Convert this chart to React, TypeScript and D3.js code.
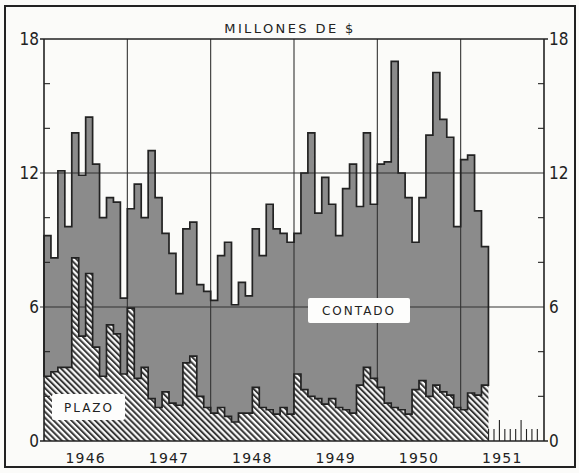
import React from 'react';
import * as d3 from 'd3';

const W = 579;
const H = 473;

const yearLabels = ['1946', '1947', '1948', '1949', '1950', '1951'];
const majorTicks = [0, 6, 12, 18];
const minorTicks = [2, 4, 8, 10, 14, 16];

// Monthly values, Jan 1946 .. Apr 1951 (millions of $)
const total = [
  9.2, 8.2, 12.1, 9.6, 13.8, 11.9, 14.5, 12.4, 10.0, 10.9, 10.7, 6.4,
  10.4, 11.5, 10.0, 13.0, 10.9, 9.3, 8.4, 6.6, 9.5, 9.8, 7.0, 6.7,
  6.3, 8.3, 8.9, 6.1, 7.1, 6.5, 9.5, 8.3, 10.6, 9.5, 9.3, 8.9,
  9.3, 12.0, 13.8, 10.2, 11.8, 10.6, 9.2, 11.3, 12.4, 10.5, 13.8, 10.6,
  12.4, 12.5, 17.0, 12.0, 10.9, 8.9, 10.9, 13.7, 16.5, 14.4, 13.6, 9.6,
  12.6, 12.8, 10.3, 8.7,
];
const plazo = [
  2.9, 3.1, 3.3, 3.3, 8.2, 4.7, 7.5, 4.2, 2.9, 5.2, 4.8, 3.0,
  5.95, 2.8, 3.3, 1.9, 1.5, 2.2, 1.7, 1.6, 3.5, 3.8, 2.0, 1.5,
  1.25, 1.5, 1.1, 0.85, 1.25, 1.25, 2.4, 1.5, 1.4, 1.2, 1.5, 1.2,
  3.0, 2.3, 2.0, 1.9, 1.65, 1.9, 1.5, 1.4, 1.25, 2.5, 3.3, 2.8,
  2.4, 1.7, 1.5, 1.4, 1.2, 2.3, 2.7, 2.0, 2.5, 2.2, 2.05, 1.5,
  1.4, 2.15, 2.05, 2.5,
];

const INK = '#222222';
const GRAY = '#8b8b8b';
const PAPER = '#fbfbf9';

export default function App() {
  const x = d3.scaleLinear().domain([0, 72]).range([44, 544]);
  const y = d3.scaleLinear().domain([0, 18]).range([441, 39]);
  const n = total.length;
  const idx = d3.range(n + 1);
  const tv = (i: number) => total[Math.min(i, n - 1)];
  const pv = (i: number) => plazo[Math.min(i, n - 1)];

  const grayArea = d3
    .area<number>()
    .x((i) => x(i))
    .y0((i) => y(pv(i)))
    .y1((i) => y(tv(i)))
    .curve(d3.curveStepAfter);
  const hatchArea = d3
    .area<number>()
    .x((i) => x(i))
    .y0(y(0))
    .y1((i) => y(pv(i)))
    .curve(d3.curveStepAfter);

  const yearStarts = d3.range(1, 6).map((k) => k * 12);
  const rulerTicks = d3.range(10).map((k) => n + 0.02 + k * 0.78);

  const numFont = "'Liberation Sans Narrow', 'DejaVu Sans Condensed', 'Liberation Sans', sans-serif";
  const geoFont = "'DejaVu Sans', 'Liberation Sans', sans-serif";

  return (
    <svg
      width={W}
      height={H}
      viewBox={`0 0 ${W} ${H}`}
      style={{ position: 'absolute', left: 0, top: 0, background: PAPER }}
    >
      <defs>
        <pattern
          id="hatch"
          patternUnits="userSpaceOnUse"
          width={4.2}
          height={10}
          patternTransform="rotate(-45)"
        >
          <rect width={4.2} height={10} fill="#fafafa" />
          <rect width={2.0} height={10} fill="#383838" />
        </pattern>
      </defs>
      <rect x={0} y={0} width={W} height={H} fill={PAPER} />
      {/* outer frame */}
      <rect x={5} y={6} width={570} height={461} fill="none" stroke={INK} strokeWidth={2} />

      {/* title */}
      <text
        x={290}
        y={33}
        textAnchor="middle"
        fontFamily={geoFont}
        fontSize={13}
        letterSpacing={2.4}
        fill={INK}
      >
        MILLONES DE $
      </text>

      {/* contado (gray) area */}
      <path d={grayArea(idx) || ''} fill={GRAY} />

      {/* grid lines */}
      {yearStarts.map((m) => (
        <line key={'v' + m} x1={x(m)} x2={x(m)} y1={y(18)} y2={y(0)} stroke="#333" strokeWidth={1.1} />
      ))}
      {[6, 12].map((v) => (
        <line key={'h' + v} x1={x(0) - 4} x2={x(72)} y1={y(v)} y2={y(v)} stroke="#333" strokeWidth={1.1} />
      ))}

      {/* plazo (hatched) area */}
      <path d={hatchArea(idx) || ''} fill="url(#hatch)" />

      {/* outlines */}
      <path d={grayArea(idx) || ''} fill="none" stroke={INK} strokeWidth={1.7} strokeLinejoin="miter" />

      {/* ruler ticks after the data */}
      {rulerTicks.map((m, k) => (
        <line
          key={'r' + k}
          x1={x(m)}
          x2={x(m)}
          y1={y(0)}
          y2={y(0) - (k % 4 === 2 ? 21 : 12)}
          stroke={INK}
          strokeWidth={1.1}
        />
      ))}

      {/* plot frame */}
      <line x1={x(0)} x2={x(0)} y1={y(18)} y2={y(0)} stroke={INK} strokeWidth={1.6} />
      <line x1={x(72)} x2={x(72)} y1={y(18)} y2={y(0)} stroke={INK} strokeWidth={1.6} />
      <line x1={x(0) - 4} x2={x(72) + 4} y1={y(18)} y2={y(18)} stroke={INK} strokeWidth={1.4} />
      <line x1={x(0) - 4} x2={x(72) + 4} y1={y(0)} y2={y(0)} stroke={INK} strokeWidth={1.6} />

      {/* minor ticks */}
      {minorTicks.map((v) => (
        <g key={'m' + v}>
          <line x1={x(0)} x2={x(0) + 6} y1={y(v)} y2={y(v)} stroke={INK} strokeWidth={1.1} />
          <line x1={x(72) - 6} x2={x(72)} y1={y(v)} y2={y(v)} stroke={INK} strokeWidth={1.1} />
        </g>
      ))}

      {/* axis labels */}
      {majorTicks.map((v) => (
        <g key={'l' + v}>
          <text
            x={x(0) - 5}
            y={y(v) + 1}
            textAnchor="end"
            dominantBaseline="middle"
            fontFamily={numFont}
            fontSize={17}
            fill={INK}
          >
            {v}
          </text>
          <text
            x={x(72) + 5}
            y={y(v) + 1}
            textAnchor="start"
            dominantBaseline="middle"
            fontFamily={numFont}
            fontSize={17}
            fill={INK}
          >
            {v}
          </text>
        </g>
      ))}

      {yearLabels.map((lab, k) => (
        <text
          key={lab}
          x={x(k * 12 + 6)}
          y={463}
          textAnchor="middle"
          fontFamily={geoFont}
          fontSize={14}
          letterSpacing={1.2}
          fill={INK}
        >
          {lab}
        </text>
      ))}

      {/* series labels */}
      <rect x={308} y={298} width={102} height={25} rx={2} fill="#fdfdfc" />
      <text
        x={359}
        y={311}
        textAnchor="middle"
        dominantBaseline="middle"
        fontFamily={geoFont}
        fontSize={12}
        letterSpacing={2}
        fill={INK}
      >
        CONTADO
      </text>
      <rect x={52} y={394} width={73} height={26} rx={2} fill="#fdfdfc" />
      <text
        x={89}
        y={408}
        textAnchor="middle"
        dominantBaseline="middle"
        fontFamily={geoFont}
        fontSize={12}
        letterSpacing={2}
        fill={INK}
      >
        PLAZO
      </text>
    </svg>
  );
}
